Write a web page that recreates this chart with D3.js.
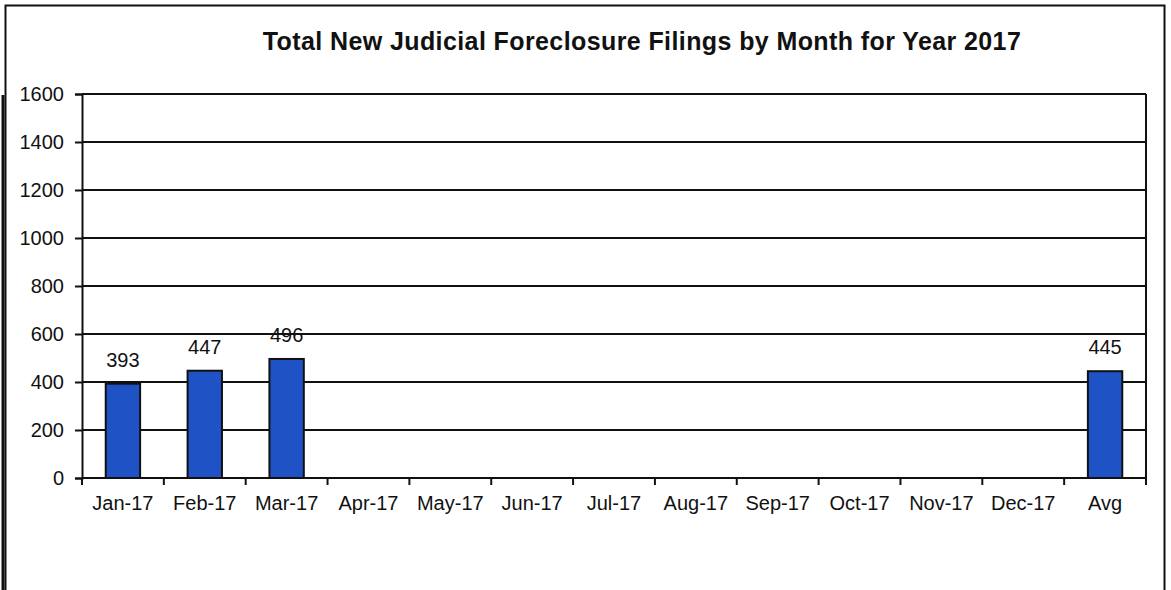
<!DOCTYPE html>
<html>
<head>
<meta charset="utf-8">
<script src="https://cdn.jsdelivr.net/npm/d3@7"></script>
<style>
  body { margin: 0; background: #fff; }
  svg { display: block; font-family: "Liberation Sans", Arial, sans-serif; }
</style>
</head>
<body>
<div id="chart"></div>
<script>
// Data
var categories = ["Jan-17", "Feb-17", "Mar-17", "Apr-17", "May-17", "Jun-17",
                  "Jul-17", "Aug-17", "Sep-17", "Oct-17", "Nov-17", "Dec-17", "Avg"];
var filings = [393, 447, 496, null, null, null, null, null, null, null, null, null, 445];
var yTicks = [0, 200, 400, 600, 800, 1000, 1200, 1400, 1600];
var chartTitle = "Total New Judicial Foreclosure Filings by Month for Year 2017";

var width = 1171;
var height = 590;
var margin = { top: 94, right: 25, bottom: 112, left: 82 };
var innerW = width - margin.left - margin.right;
var innerH = height - margin.top - margin.bottom;

var svg = d3.select('#chart')
            .append('svg')
            .attr('width', width)
            .attr('height', height);

// Outer frame
svg.append('rect')
   .attr('x', 5.5).attr('y', 5.5)
   .attr('width', 1159).attr('height', 640)
   .attr('fill', 'none')
   .attr('stroke', '#111')
   .attr('stroke-width', 2);
svg.append('line')
   .attr('x1', 3).attr('x2', 3)
   .attr('y1', 95).attr('y2', height)
   .attr('stroke', '#111')
   .attr('stroke-width', 3);

// Title
svg.append('text')
   .attr('x', 642)
   .attr('y', 50)
   .attr('text-anchor', 'middle')
   .style('font-size', '25px')
   .style('letter-spacing', '0.4px')
   .attr('font-weight', 'bold')
   .attr('fill', '#111')
   .text(chartTitle);

var g = svg.append('g')
           .attr('transform', 'translate(' + margin.left + ',' + margin.top + ')');

var xScale = d3.scaleBand()
               .domain(categories)
               .range([0, innerW])
               .paddingInner(0.58)
               .paddingOuter(0.29);
var yScale = d3.scaleLinear()
               .domain([0, 1600])
               .range([innerH, 0]);

// Gridlines
g.selectAll('line.grid')
 .data(yTicks.filter(function(d) { return d > 0; }))
 .enter()
 .append('line')
 .attr('class', 'grid')
 .attr('x1', 0).attr('x2', innerW)
 .attr('y1', function(d) { return yScale(d); })
 .attr('y2', function(d) { return yScale(d); })
 .attr('stroke', '#111')
 .attr('stroke-width', 2);

// Right border of plot
g.append('line')
 .attr('x1', innerW).attr('x2', innerW)
 .attr('y1', 0).attr('y2', innerH)
 .attr('stroke', '#111')
 .attr('stroke-width', 2);

// Bars
var present = categories.map(function(c, i) { return { cat: c, value: filings[i] }; })
                        .filter(function(d) { return d.value != null; });

g.selectAll('rect.bar')
 .data(present)
 .enter()
 .append('rect')
 .attr('class', 'bar')
 .attr('x', function(d) { return xScale(d.cat); })
 .attr('y', function(d) { return yScale(d.value); })
 .attr('width', xScale.bandwidth())
 .attr('height', function(d) { return innerH - yScale(d.value); })
 .attr('fill', '#1f52c4')
 .attr('stroke', '#111')
 .attr('stroke-width', 2);

// Value labels
g.selectAll('text.val')
 .data(present)
 .enter()
 .append('text')
 .attr('class', 'val')
 .attr('x', function(d) { return xScale(d.cat) + xScale.bandwidth() / 2; })
 .attr('y', function(d) { return yScale(d.value) - 17; })
 .attr('text-anchor', 'middle')
 .style('font-size', '20px')
 .attr('fill', '#111')
 .text(function(d) { return d.value; });

// Y-Axis
var yAxis = d3.axisLeft(yScale).tickValues(yTicks).tickFormat(d3.format('d'))
              .tickSize(7).tickPadding(11);
var yg = g.append('g').call(yAxis);
yg.select('.domain').attr('stroke', '#111').attr('stroke-width', 2);
yg.selectAll('.tick line').attr('stroke', '#111').attr('stroke-width', 2);
yg.selectAll('.tick text').style('font-size', '20px').attr('fill', '#111')
  .attr('font-family', '"Liberation Sans", Arial, sans-serif');

// X-Axis: ticks at category boundaries
var step = xScale.step();
var xg = g.append('g').attr('transform', 'translate(0,' + innerH + ')');
xg.append('line')
  .attr('x1', 0).attr('x2', innerW)
  .attr('y1', 0).attr('y2', 0)
  .attr('stroke', '#111')
  .attr('stroke-width', 2);
xg.selectAll('line.tk')
  .data(d3.range(categories.length + 1))
  .enter()
  .append('line')
  .attr('class', 'tk')
  .attr('x1', function(i) { return i * step; })
  .attr('x2', function(i) { return i * step; })
  .attr('y1', 0).attr('y2', 7)
  .attr('stroke', '#111')
  .attr('stroke-width', 2);
xg.selectAll('text.lbl')
  .data(categories)
  .enter()
  .append('text')
  .attr('class', 'lbl')
  .attr('x', function(d) { return xScale(d) + xScale.bandwidth() / 2; })
  .attr('y', 32)
  .attr('text-anchor', 'middle')
  .style('font-size', '20px')
  .attr('fill', '#111')
  .text(function(d) { return d; });
</script>
</body>
</html>
